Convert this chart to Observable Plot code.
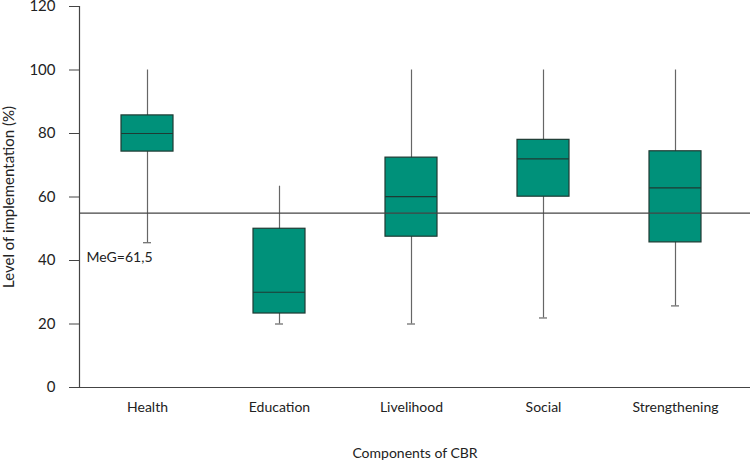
<!DOCTYPE html>
<html>
<head>
<meta charset="utf-8">
<script src="https://cdn.jsdelivr.net/npm/d3@7"></script>
<script src="https://cdn.jsdelivr.net/npm/@observablehq/plot@0.6"></script>
<style>
  html, body { margin: 0; padding: 0; background: #fff; }
  #chart svg { display: block; }
</style>
</head>
<body>
<div id="chart"></div>
<script>
const categories = ["Health", "Education", "Livelihood", "Social", "Strengthening"];
const whiskerLow  = [45.6, 20.0, 20.0, 21.9, 25.7];
const q1          = [74.3, 23.3, 47.5, 60.1, 45.7];
const median      = [80.0, 30.0, 60.1, 72.0, 62.9];
const q3          = [85.7, 50.0, 72.4, 78.0, 74.4];
const whiskerHigh = [100, 63.4, 100, 100, 100];
const yTicks = [0, 20, 40, 60, 80, 100, 120];
const referenceValue = 54.9;
const referenceLabel = "MeG=61,5";
const referenceLabelY = 41;

const data = categories.map((c, i) => ({
  cat: c, lo: whiskerLow[i], q1: q1[i], med: median[i], q3: q3[i], hi: whiskerHigh[i]
}));

const teal = "#00917a";
const dark = "#1f3a33";
const grey = "#666";
const font = "Lato, 'Open Sans', sans-serif";

const chart = Plot.plot({
  width: 750,
  height: 464,
  marginTop: 6,
  marginLeft: 79,
  marginRight: 0,
  marginBottom: 77,
  style: { fontFamily: font, fontSize: "14px", color: "#222", background: "#fff" },
  x: { domain: categories, padding: 0, insetRight: 7, label: null },
  y: { domain: [0, 120], label: null },
  marks: [
    Plot.ruleX(data, { x: "cat", y1: "lo", y2: "hi", stroke: grey, strokeWidth: 1.2 }),
    Plot.barY(data, { x: "cat", y1: "q1", y2: "q3", fill: teal, stroke: dark, strokeWidth: 1.2, insetLeft: 40, insetRight: 40 }),
    Plot.tickY(data, { x: "cat", y: "med", stroke: dark, strokeWidth: 1.2, insetLeft: 40, insetRight: 40 }),
    Plot.tickY(data, { x: "cat", y: "lo", stroke: grey, strokeWidth: 1.2, insetLeft: 62, insetRight: 62 }),
    Plot.ruleY([referenceValue], { stroke: "#444", strokeWidth: 1.2 }),
    Plot.text([referenceLabel], { y: [referenceLabelY], text: d => d, frameAnchor: "left", textAnchor: "start", dx: 7, fontSize: 14, fill: "#333" }),
    Plot.ruleY([0], { stroke: "#444", strokeWidth: 1.2 }),
    Plot.frame({ anchor: "left", stroke: "#444", strokeWidth: 1.2 }),
    Plot.axisY(yTicks, {
      tickSize: 10, tickPadding: 14, fontSize: 15, stroke: "#444",
      label: "Level of implementation (%)", labelAnchor: "center", labelArrow: "none", labelOffset: 76
    }),
    Plot.axisX({
      tickSize: 0, tickPadding: 15, fontSize: 14,
      label: "Components of CBR", labelAnchor: "center", labelArrow: "none", labelOffset: 70
    })
  ]
});
chart.querySelectorAll("text").forEach(t => t.setAttribute("fill", "#222"));
document.getElementById("chart").appendChild(chart);
</script>
</body>
</html>
